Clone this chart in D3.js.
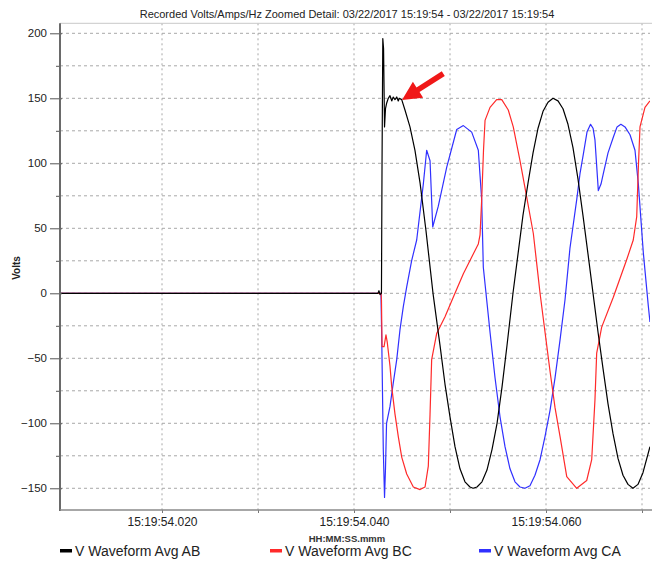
<!DOCTYPE html>
<html><head><meta charset="utf-8">
<script src="https://cdn.jsdelivr.net/npm/d3@7"></script>
<style>
html,body{margin:0;padding:0;background:#fff;}
svg{display:block;font-family:"Liberation Sans",Arial,sans-serif;}
</style></head>
<body><svg id="c" width="652" height="561"></svg>
<script>
// time in ms after 15:19:54.000, values in volts
const titleText = "Recorded Volts/Amps/Hz Zoomed Detail: 03/22/2017 15:19:54 - 03/22/2017 15:19:54";
const seriesNames = ["V Waveform Avg AB", "V Waveform Avg BC", "V Waveform Avg CA"];
const seriesColors = ["#000000", "#ff2a2a", "#3030ff"];
const xTickValues = [20, 30, 40, 50, 60, 70];
const xTickLabels = ["15:19:54.020", "", "15:19:54.040", "", "15:19:54.060", ""];
const yMajorTicks = [-150, -100, -50, 0, 50, 100, 150, 200];
const yMinorTicks = [-125, -75, -25, 25, 75, 125, 175];
const xTitle = "HH:MM:SS.mmm";
const yTitle = "Volts";

const abData = [[9.375,0],[42.5,0],[42.6,2],[42.71,-1],[42.86,0],[42.92,100],[43.0,196],[43.08,188],[43.18,128],[43.28,142],[43.39,146],[43.57,150],[43.75,152],[43.93,148],[44.09,151],[44.27,149],[44.45,151],[44.61,148],[44.72,150],[44.97,149],[45.31,141],[45.83,128],[46.35,110],[46.88,85],[47.5,48],[48.23,0],[48.96,-40],[49.48,-70],[50.0,-95],[50.52,-118],[51.04,-135],[51.56,-145],[52.08,-149],[52.4,-150],[52.81,-149],[53.33,-145],[53.85,-136],[54.38,-120],[54.9,-100],[55.42,-72],[55.94,-40],[56.56,0],[57.08,30],[57.6,60],[58.13,85],[58.65,108],[59.17,127],[59.69,140],[60.21,147],[60.73,150],[61.25,148],[61.77,142],[62.29,130],[62.81,112],[63.33,88],[63.85,60],[64.38,30],[64.9,0],[65.42,-30],[65.94,-58],[66.46,-85],[66.98,-108],[67.5,-127],[68.02,-140],[68.54,-147],[69.06,-150],[69.58,-147],[70.1,-138],[70.83,-118]];

const bcData = [[9.375,0],[42.81,0],[42.86,-5],[42.92,-41],[43.13,-41],[43.33,-32],[43.47,-38],[43.75,-56],[43.93,-72],[44.27,-93],[44.61,-110],[44.97,-126],[45.49,-139],[46.18,-149],[46.88,-151],[47.4,-149],[47.74,-133],[47.92,-93],[48.09,-51],[48.61,-31],[49.48,-18],[50.34,-3],[51.39,15],[52.95,38],[53.13,45],[53.3,72],[53.49,110],[53.65,133],[54.17,143],[54.86,149],[55.39,149],[56.07,141],[56.59,128],[57.29,102],[57.99,74],[58.68,46],[59.38,0],[59.9,-30],[60.42,-60],[60.94,-88],[61.46,-110],[62.16,-141],[63.2,-150],[64.24,-144],[64.76,-128],[65.1,-82],[65.28,-46],[65.8,-26],[67.01,-3],[68.41,26],[69.09,41],[69.45,59],[69.62,97],[69.79,128],[70.31,143],[70.83,148]];

const caData = [[9.375,0],[42.81,0],[42.9,-40],[43.05,-120],[43.18,-157],[43.28,-135],[43.39,-100],[43.75,-87],[44.09,-69],[44.45,-51],[44.79,-28],[45.14,-10],[45.49,5],[46.0,25],[46.53,41],[47.22,84],[47.57,110],[47.92,102],[48.2,51],[48.78,67],[49.66,97],[50.7,126],[51.39,129],[52.26,124],[52.95,110],[53.3,72],[53.47,20],[53.82,-5],[54.17,-30],[54.69,-65],[55.21,-95],[55.73,-118],[56.25,-135],[56.77,-145],[57.29,-149],[57.81,-150],[58.33,-148],[58.85,-140],[59.38,-128],[59.9,-110],[60.42,-90],[60.94,-65],[61.46,-36],[61.98,-5],[62.5,35],[63.2,72],[63.54,92],[63.89,107],[64.27,124],[64.64,130],[64.9,127],[65.1,118],[65.45,79],[65.73,84],[65.97,92],[66.46,108],[67.01,120],[67.4,128],[67.8,130],[68.23,128],[68.75,122],[69.27,110],[69.62,84],[70.14,31],[70.66,-10],[70.83,-22]];

const arrowTip = [45.0, 148.7];
const arrowTail = [49.3, 169];

const svg = d3.select("#c");
const L = 60, R = 650, T = 23.3, B = 510;
const x = d3.scaleLinear().domain([9.375, 70.833]).range([L, R]);
const y = d3.scaleLinear().domain([-166.7, 207.7]).range([B, T]);

// title
svg.append("text").attr("x", 347).attr("y", 18).attr("text-anchor", "middle")
  .attr("font-size", "11px").attr("fill", "#222").text(titleText);

// grid
const grid = svg.append("g");
grid.selectAll("line.h").data(yMajorTicks.concat(yMinorTicks)).join("line")
  .attr("x1", L).attr("x2", R).attr("y1", d => y(d)).attr("y2", d => y(d))
  .attr("stroke", "#a8a8a8").attr("stroke-width", 1).attr("stroke-dasharray", "3,3");
grid.selectAll("line.v").data(xTickValues).join("line")
  .attr("x1", d => x(d)).attr("x2", d => x(d)).attr("y1", T).attr("y2", B)
  .attr("stroke", "#a8a8a8").attr("stroke-width", 1).attr("stroke-dasharray", "2,3");

// frame top
svg.append("line").attr("x1", L).attr("x2", 652).attr("y1", T).attr("y2", T)
  .attr("stroke", "#c8c8c8").attr("stroke-width", 1);

// lines
svg.append("defs").append("clipPath").attr("id", "clip").append("rect")
  .attr("x", L).attr("y", T).attr("width", R - L).attr("height", B - T);
const line = d3.line().x(d => x(d[0])).y(d => y(d[1]));
const gl = svg.append("g").attr("clip-path", "url(#clip)");
[[caData, 2], [bcData, 1], [abData, 0]].forEach(([data, i]) => {
  gl.append("path").datum(data).attr("d", line).attr("fill", "none")
    .attr("stroke", seriesColors[i]).attr("stroke-width", 1.2)
    .attr("stroke-linejoin", "round");
});

// axes
const yAxis = svg.append("g").attr("transform", `translate(${L + 2},0)`)
  .call(d3.axisLeft(y).tickValues(yMajorTicks).tickSize(12).tickPadding(3).tickFormat(d3.format("d")));
const yMinor = svg.append("g").attr("transform", `translate(${L},0)`)
  .call(d3.axisLeft(y).tickValues(yMinorTicks).tickSize(4).tickFormat(""));
[yAxis, yMinor].forEach(g => {
  g.select(".domain").remove();
  g.selectAll("line").attr("stroke", "#555").attr("stroke-width", 1);
});
yAxis.selectAll("text").attr("font-size", "11.5px").attr("fill", "#222")
  .attr("font-family", "Liberation Sans, Arial, sans-serif");

const xAxis = svg.append("g").attr("transform", `translate(0,${B})`)
  .call(d3.axisBottom(x).tickValues(xTickValues).tickSize(3).tickPadding(4)
    .tickFormat((d, i) => xTickLabels[i]));
xAxis.select(".domain").remove();
xAxis.selectAll("line").attr("stroke", "#777");
xAxis.selectAll("text").attr("font-size", "12px").attr("fill", "#222")
  .attr("font-family", "Liberation Sans, Arial, sans-serif");

svg.append("line").attr("x1", L).attr("x2", L).attr("y1", T).attr("y2", B + 1)
  .attr("stroke", "#6a6a6a").attr("stroke-width", 2);
svg.append("line").attr("x1", L).attr("x2", 652).attr("y1", B).attr("y2", B)
  .attr("stroke", "#8a8a8a").attr("stroke-width", 1.5);

// axis titles
svg.append("text").attr("x", 347).attr("y", 542).attr("text-anchor", "middle")
  .attr("font-size", "9.5px").attr("font-weight", "bold").attr("fill", "#333").text(xTitle);
svg.append("text").attr("transform", "translate(20,268) rotate(-90)").attr("text-anchor", "middle")
  .attr("font-size", "10px").attr("font-weight", "bold").attr("fill", "#222").text(yTitle);

// arrow annotation
(function () {
  const tx = x(arrowTip[0]), ty = y(arrowTip[1]);
  const sx = x(arrowTail[0]), sy = y(arrowTail[1]);
  const dx = tx - sx, dy = ty - sy, len = Math.hypot(dx, dy);
  const ux = dx / len, uy = dy / len, px = -uy, py = ux;
  const headL = 19, headW = 9.5, shaftW = 2.8;
  const bx = tx - ux * headL, by = ty - uy * headL;
  const pts = [
    [sx + px * shaftW, sy + py * shaftW],
    [bx + px * shaftW, by + py * shaftW],
    [bx + px * headW, by + py * headW],
    [tx, ty],
    [bx - px * headW, by - py * headW],
    [bx - px * shaftW, by - py * shaftW],
    [sx - px * shaftW, sy - py * shaftW]
  ];
  svg.append("path").attr("d", "M" + pts.map(p => p.join(",")).join("L") + "Z")
    .attr("fill", "#f01818");
})();

// legend
const legendX = [60, 270, 479];
const lg = svg.append("g");
seriesNames.forEach((n, i) => {
  lg.append("rect").attr("x", legendX[i]).attr("y", 549).attr("width", 12).attr("height", 3.5)
    .attr("fill", seriesColors[i]);
  lg.append("text").attr("x", legendX[i] + 15).attr("y", 556).attr("font-size", "14px")
    .attr("fill", "#222").text(n);
});
</script></body></html>
